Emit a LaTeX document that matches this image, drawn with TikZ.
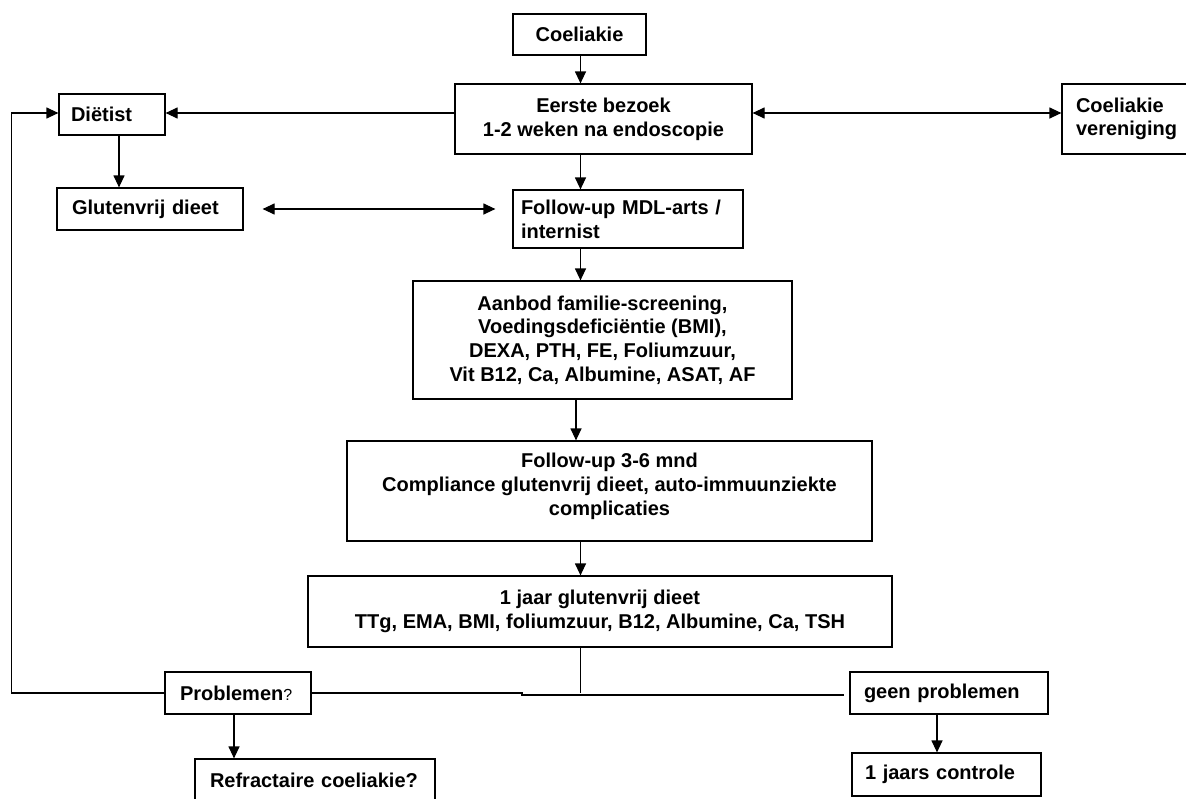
\documentclass[tikz,border=0pt]{standalone}
\usepackage{fontspec}
\setmainfont{Liberation Sans}
\usetikzlibrary{arrows.meta}
\tikzset{
  box/.style={draw, line width=1.2pt, inner sep=0pt, rectangle, font=\bfseries\fontsize{20}{23.7}\selectfont},
  cbox/.style={box, align=center},
  lbox/.style={box, align=left},
  conn/.style={line width=1.2pt},
  arr/.style={conn, -{Triangle[length=12pt,width=11pt]}},
  darr/.style={conn, {Triangle[length=12pt,width=11pt]}-{Triangle[length=12pt,width=11pt]}}
}
\begin{document}
\begin{tikzpicture}[x=1pt,y=-1pt]
\useasboundingbox[fill=white] (0,0) rectangle (1186,798);
% boxes
\node[cbox, minimum width=133pt, minimum height=41pt] (coel) at (579.5,34.5) {Coeliakie};
\node[cbox, minimum width=297pt, minimum height=70pt] (eerste) at (603.5,119) {Eerste bezoek\\1-2 weken na endoscopie};
\node[lbox, minimum height=41pt, text width=82pt, inner xsep=12pt] (diet) at (112,114.5) {Diëtist};
\node[lbox, minimum height=70pt, text width=110pt, inner xsep=14pt] (ver) at (1131,119) {Coeliakie\\vereniging};
\node[lbox, minimum height=42pt, text width=156pt, inner xsep=15pt] (glut) at (150,209) {Glutenvrij dieet};
\node[lbox, minimum height=58pt, text width=214pt, inner xsep=8pt] (mdl) at (628,219) {Follow-up MDL-arts /\\internist};
\node[cbox, minimum width=379pt, minimum height=118pt] (aanbod) at (602.5,340) {Aanbod familie-screening,\\Voedingsdeficiëntie (BMI),\\DEXA, PTH, FE, Foliumzuur,\\Vit B12, Ca, Albumine, ASAT, AF};
\node[cbox, minimum width=525pt, minimum height=100pt] (fu) at (609.5,491) {Follow-up 3-6 mnd\\Compliance glutenvrij dieet, auto-immuunziekte\\complicaties\\[-10pt]\mbox{}};
\node[cbox, minimum width=584pt, minimum height=71pt] (jaar) at (600,611.5) {1 jaar glutenvrij dieet\\TTg, EMA, BMI, foliumzuur, B12, Albumine, Ca, TSH};
\node[lbox, minimum height=42pt, text width=116pt, inner xsep=15pt] (prob) at (238,693) {Problemen{\mdseries\fontsize{16}{18}\selectfont ?}};
\node[lbox, minimum height=42pt, text width=170pt, inner xsep=14pt] (geen) at (949,693) {geen problemen};
\node[lbox, minimum height=42pt, text width=210pt, inner xsep=15pt] (refr) at (315,780) {Refractaire coeliakie?};
\node[lbox, minimum height=43pt, text width=163pt, inner xsep=13pt] (ctrl) at (946.5,774.5) {1 jaars controle};
% helper coordinates
\coordinate (mx) at (580.5,0);
\coordinate (loopx) at (11.5,0);
\coordinate (stepA) at (522,693);
\coordinate (stepB) at (522,695);
\coordinate (gend) at (844,695);
% connectors
\draw[arr] (coel.south -| mx) -- (eerste.north -| mx);
\draw[arr] (eerste.west |- 0,113) -- (diet.east |- 0,113);
\draw[darr] (eerste.east |- 0,113) -- (ver.west |- 0,113);
\draw[arr] ([xshift=7pt]diet.south) -- ([xshift=7pt]diet.south |- glut.north);
\draw[darr] ([xshift=19pt]glut.east) -- ([xshift=-17pt]glut.east -| mdl.west);
\draw[arr] (eerste.south -| mx) -- (mdl.north -| mx);
\draw[arr] (mdl.south -| mx) -- (aanbod.north -| mx);
\draw[arr] ([xshift=-4.5pt]aanbod.south -| mx) -- ([xshift=-4.5pt]fu.north -| mx);
\draw[arr] (fu.south -| mx) -- (jaar.north -| mx);
\draw[conn] (jaar.south -| mx) -- (mx |- stepA);
\draw[conn] (prob.east) -- (stepA) -- (stepB) -- (gend);
\draw[arr] (prob.west) -| (loopx |- 0,113) -- (diet.west |- 0,113);
\draw[arr] ([xshift=-4pt]prob.south) -- ([xshift=-4pt]prob.south |- refr.north);
\draw[arr] ([xshift=-12pt]geen.south) -- ([xshift=-12pt]geen.south |- ctrl.north);
\end{tikzpicture}
\end{document}
